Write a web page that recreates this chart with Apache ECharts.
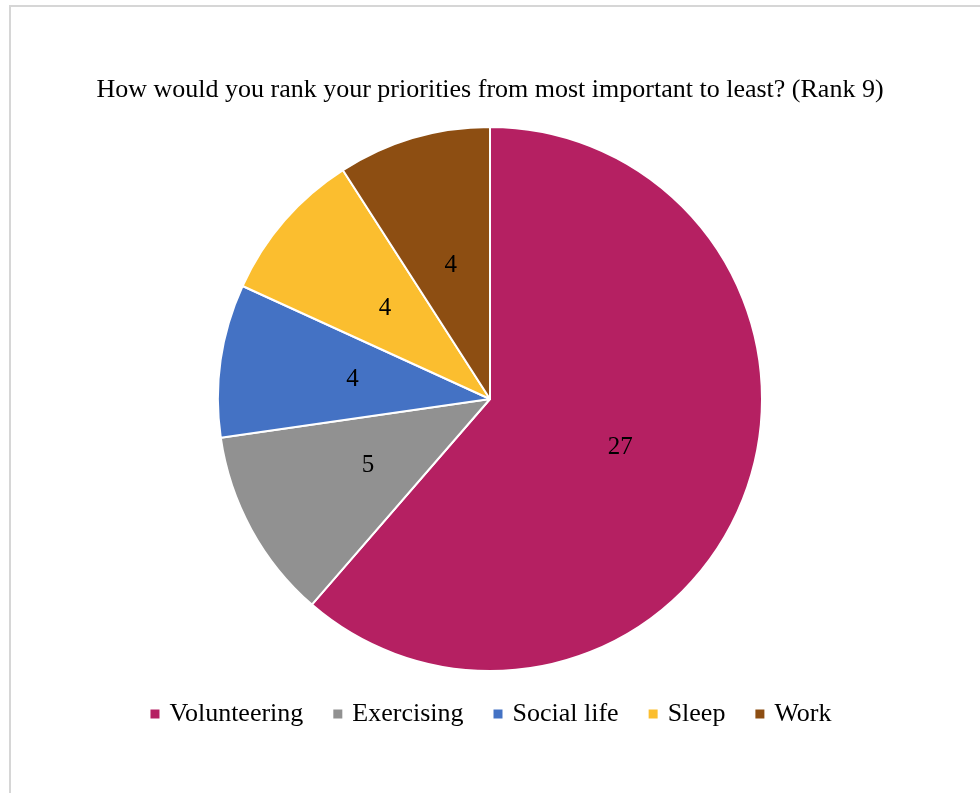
<!DOCTYPE html>
<html>
<head>
<meta charset="utf-8">
<style>
  html, body { margin: 0; padding: 0; background: #ffffff; }
  #chart { width: 980px; height: 793px; }
</style>
<script src="https://cdn.jsdelivr.net/npm/echarts@6/dist/echarts.min.js"></script>
</head>
<body>
<div id="chart"></div>
<script>
// Survey answers: how many respondents put each priority in 9th place
const titleText = 'How would you rank your priorities from most important to least? (Rank 9)';
const categories = ['Volunteering', 'Exercising', 'Social life', 'Sleep', 'Work'];
const counts = [27, 5, 4, 4, 4];
const sliceColors = ['#B52062', '#919191', '#4472C4', '#FBBE2F', '#8D4E12'];

const serif = '"Liberation Serif", "Times New Roman", serif';

const chart = echarts.init(document.getElementById('chart'), null, { renderer: 'canvas' });

chart.setOption({
  backgroundColor: '#ffffff',
  animation: false,
  color: sliceColors,
  graphic: [{
    type: 'rect',
    shape: { x: 10, y: 6, width: 1200, height: 1200 },
    style: { fill: 'none', stroke: '#d6d6d6', lineWidth: 2 },
    silent: true
  }],
  title: {
    text: titleText,
    left: 'center',
    top: 72,
    textStyle: {
      fontFamily: serif,
      fontWeight: 'normal',
      fontSize: 26,
      color: '#000000'
    }
  },
  legend: {
    data: categories,
    top: 696,
    left: 'center',
    icon: 'rect',
    itemWidth: 11,
    itemHeight: 11,
    itemGap: 28,
    textStyle: {
      fontFamily: serif,
      fontSize: 26,
      color: '#000000',
      padding: [0, 0, 0, 4]
    }
  },
  series: [{
    type: 'pie',
    center: [490, 399],
    radius: 272,
    startAngle: 90,
    clockwise: true,
    data: categories.map((name, i) => ({ name: name, value: counts[i] })),
    itemStyle: { borderColor: '#ffffff', borderWidth: 2 },
    label: {
      show: true,
      position: 'inside',
      formatter: '{c}',
      fontFamily: serif,
      fontSize: 25,
      color: '#000000'
    },
    labelLine: { show: false },
    emphasis: { disabled: true }
  }]
});
</script>
</body>
</html>
